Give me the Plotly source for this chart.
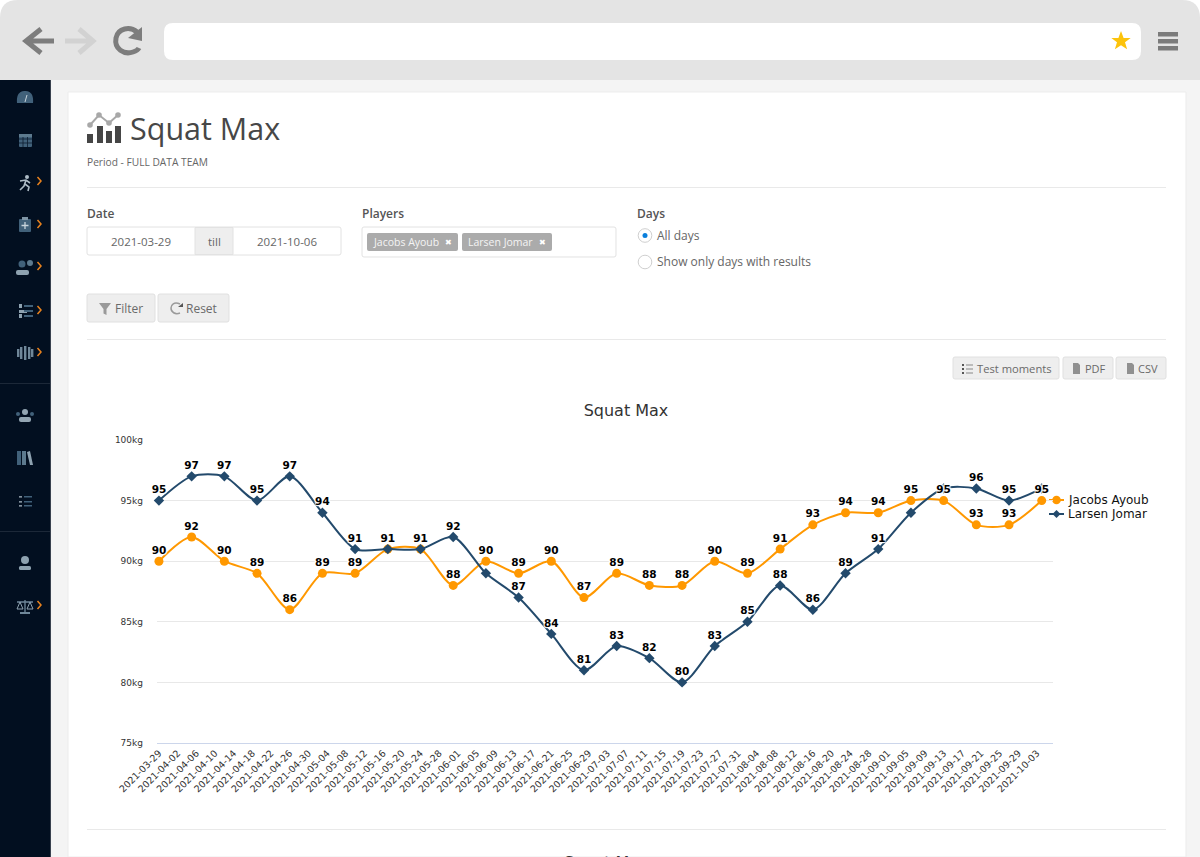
import plotly.graph_objects as go

W, H = 1200, 857

test_dates = ['2021-03-29', '2021-04-05', '2021-04-12', '2021-04-19', '2021-04-26', '2021-05-03', '2021-05-10',
              '2021-05-17', '2021-05-24', '2021-05-31', '2021-06-07', '2021-06-14', '2021-06-21', '2021-06-28',
              '2021-07-05', '2021-07-12', '2021-07-19', '2021-07-26', '2021-08-02', '2021-08-09', '2021-08-16',
              '2021-08-23', '2021-08-30', '2021-09-06', '2021-09-13', '2021-09-20', '2021-09-27', '2021-10-04']
jacobs = [90, 92, 90, 89, 86, 89, 89, 91, 91, 88, 90, 89, 90, 87, 89, 88, 88, 90, 89, 91, 93, 94, 94, 95, 95, 93, 93, 95]
larsen = [95, 97, 97, 95, 97, 94, 91, 91, 91, 92, 89, 87, 84, 81, 83, 82, 80, 83, 85, 88, 86, 89, 91, 94, 96, 96, 95, 96]
# the reference hides the labels that collide with the other series
larsen_labels = ['95', '97', '97', '95', '97', '94', '91', '91', '91', '92', '', '87', '84', '81', '83', '82', '80',
                 '83', '85', '88', '86', '89', '91', '', '', '96', '95', '']
tick_dates = ['2021-03-29', '2021-04-02', '2021-04-06', '2021-04-10', '2021-04-14', '2021-04-18', '2021-04-22',
              '2021-04-26', '2021-04-30', '2021-05-04', '2021-05-08', '2021-05-12', '2021-05-16', '2021-05-20',
              '2021-05-24', '2021-05-28', '2021-06-01', '2021-06-05', '2021-06-09', '2021-06-13', '2021-06-17',
              '2021-06-21', '2021-06-25', '2021-06-29', '2021-07-03', '2021-07-07', '2021-07-11', '2021-07-15',
              '2021-07-19', '2021-07-23', '2021-07-27', '2021-07-31', '2021-08-04', '2021-08-08', '2021-08-12',
              '2021-08-16', '2021-08-20', '2021-08-24', '2021-08-28', '2021-09-01', '2021-09-05', '2021-09-09',
              '2021-09-13', '2021-09-17', '2021-09-21', '2021-09-25', '2021-09-29', '2021-10-03']

ORANGE = '#ff9800'
NAVY = '#234a6c'
PAGE_FONT = 'Open Sans'
CHART_FONT = 'DejaVu Sans'
ICON = '#41617a'
BTN_TXT = '#6a6a6a'

shapes = []
notes = []


def svg(d):
    # path in page pixels -> paper coordinates
    out, is_x = [], True
    for tok in d.split():
        if tok.isalpha():
            out.append(tok)
        elif is_x:
            out.append(f'{float(tok) / W:.5f}')
            is_x = False
        else:
            out.append(f'{1 - float(tok) / H:.5f}')
            is_x = True
    return ' '.join(out)


def path(d, fill='rgba(0,0,0,0)', line=None, width=0):
    shapes.append(dict(type='path', path=svg(d), xref='paper', yref='paper', layer='below', fillcolor=fill,
                       line=dict(color=line or 'rgba(0,0,0,0)', width=width)))


def rect(x0, y0, x1, y1, fill, r=0, line=None, width=0):
    d = (f'M {x0 + r} {y0} L {x1 - r} {y0} Q {x1} {y0} {x1} {y0 + r} L {x1} {y1 - r} Q {x1} {y1} {x1 - r} {y1} '
         f'L {x0 + r} {y1} Q {x0} {y1} {x0} {y1 - r} L {x0} {y0 + r} Q {x0} {y0} {x0 + r} {y0} Z')
    path(d, fill, line, width)


def circle(cx, cy, r, fill, line=None, width=0, layer='below'):
    shapes.append(dict(type='circle', xref='paper', yref='paper', layer=layer, fillcolor=fill,
                       x0=(cx - r) / W, x1=(cx + r) / W, y0=1 - (cy + r) / H, y1=1 - (cy - r) / H,
                       line=dict(color=line or 'rgba(0,0,0,0)', width=width)))


def text(x, y, s, size=12, color='#666666', anchor='left', family=PAGE_FONT, weight=400, yanchor='middle'):
    notes.append(dict(x=x / W, y=1 - y / H, xref='paper', yref='paper', text=s, showarrow=False, xanchor=anchor,
                      yanchor=yanchor, borderpad=0, font=dict(size=size, color=color, family=family, weight=weight)))


# browser frame
rect(0, 0, 1200, 120, '#e4e4e4', r=18)
rect(0, 80, 1200, 857, '#f4f4f4')
rect(0, 80, 51, 857, '#020f20')
rect(50, 80, 51, 857, '#3a4350')
rect(68, 92, 1186, 857, '#ffffff', line='#ececec', width=1)
rect(164, 23, 1141, 60, '#ffffff', r=9)
path('M 41 29 L 26 41 L 41 53 M 26 41 L 54 41', line='#7d7d7d', width=5)
path('M 79 29 L 93 41 L 79 53 M 93 41 L 65 41', line='#d2d2d2', width=5)
path('M 137 32 C 130 26 118 28 116 38 C 114 49 124 55 133 52 C 136 51 138 50 139 48', line='#7d7d7d', width=5)
path('M 142 27 L 142 41 L 128 38 Z', fill='#7d7d7d')
path('M 1121 31 L 1123.6 37.9 L 1130.7 37.9 L 1125 42.3 L 1127.1 49.3 L 1121 45.2 L 1114.9 49.3 L 1117 42.3 '
     'L 1111.3 37.9 L 1118.4 37.9 Z', fill='#fcc30c')
for y0 in (32, 39, 46):
    rect(1158, y0, 1178, y0 + 4.5, '#7b7b7b')

# sidebar
for y0 in (383, 531):
    rect(0, y0, 50, y0 + 1, '#1c2838')
for y0 in (181, 224, 266, 310, 352, 605):
    path(f'M 37.5 {y0 - 4} L 41 {y0} L 37.5 {y0 + 4}', line='#e8821e', width=1.5)
path('M 17 103 C 16 92 22 91 25 91 C 28 91 34 92 33 103 Z', fill=ICON)
path('M 25 102 L 27 95', line='#c8d4dc', width=1)
rect(19, 135, 32, 147, ICON, r=1)
rect(19, 134, 32, 137, '#5d7a8e')
for y0 in (139, 143):
    path(f'M 19 {y0} L 32 {y0}', line='#0c1c2e', width=0.8)
for x0 in (23, 27.5):
    path(f'M {x0} 137 L {x0} 147', line='#0c1c2e', width=0.8)
circle(27, 177, 2, '#aebcc6')
path('M 26 180 L 24 186 L 20 190 M 25 184 L 29 187 L 28 191 M 20 181 L 26 180 L 30 183', line='#aebcc6', width=1.6)
rect(19, 219, 31, 232, ICON, r=1)
rect(22, 217, 28, 220, '#7f95a5')
path('M 25 222 L 25 229 M 21.5 225.5 L 28.5 225.5', line='#c8d4dc', width=1.3)
circle(22, 264, 3.5, ICON)
circle(30, 263, 3, '#5d7a8e')
rect(16, 270, 29, 275, '#8ea2b0', r=2)
rect(19, 304, 22, 308, '#8ea2b0')
rect(24, 305, 33, 307, ICON)
rect(19, 310, 27, 313, '#8ea2b0')
rect(24, 310, 33, 312, ICON)
rect(19, 314, 22, 318, '#8ea2b0')
rect(24, 315, 33, 317, ICON)
for x0, y0, y1 in ((17, 349, 357), (20, 347, 359), (24, 346, 360), (28, 347, 359), (31, 349, 357)):
    rect(x0, y0, x0 + 2.4, y1, '#6f8799')
circle(25, 412, 3, '#93a5b2')
circle(18, 414, 2, ICON)
circle(32, 414, 2, ICON)
rect(19, 417, 31, 422, '#93a5b2', r=2)
rect(17, 451, 21, 465, ICON)
rect(22, 451, 26, 465, '#5d7a8e')
path('M 27 452 L 30 451 L 33 465 L 30 465 Z', fill='#8ea2b0')
for y0 in (496, 501, 505):
    rect(19, y0 + 0.2, 22, y0 + 1.6, '#aebcc6')
    rect(24, y0, 32, y0 + 1.6, ICON)
circle(25, 560, 4, '#8ea2b0')
rect(19, 566, 31, 570, '#8ea2b0', r=1.5)
path('M 25 600 L 25 612 M 17 602 L 33 602', line='#6f8799', width=1.3)
path('M 20 602 L 17 609 L 23 609 Z M 30 602 L 27 609 L 33 609 Z', line='#8ea2b0', width=1)
rect(20, 612, 30, 614, '#6f8799')

# page header
for x0, y0 in ((87, 134), (97, 126), (106, 131), (115, 126)):
    rect(x0, y0, x0 + 6, 143, '#454545')
path('M 90 125 L 99 115 L 109 123 L 118 115', line='#a8a8a8', width=2)
for cx, cy in ((90, 125), (99, 115), (109, 123), (118, 115)):
    circle(cx, cy, 2.8, '#a8a8a8')
text(129, 128, 'Squat Max', size=30.5, color='#474747')
text(86, 162, 'Period - FULL DATA TEAM', size=10.2, color='#666666')
for y0 in (187, 339, 829):
    rect(87, y0, 1166, y0 + 1, '#e9e9e9')

# filter form
text(86, 213, 'Date', size=12, color='#555555', weight=600)
rect(87, 227, 341, 255, '#ffffff', r=2, line='#e2e2e2', width=1)
rect(195, 227.5, 233, 254.5, '#eeeeee', line='#e2e2e2', width=1)
text(141, 241, '2021-03-29', size=11.5, anchor='center')
text(214, 241, 'till', size=11.5, anchor='center')
text(287, 241, '2021-10-06', size=11.5, anchor='center')
text(361, 213, 'Players', size=12, color='#555555', weight=600)
rect(362, 227, 616, 257, '#ffffff', r=2, line='#e2e2e2', width=1)
for x0, x1, name in ((367, 458, 'Jacobs Ayoub'), (462, 552, 'Larsen Jomar')):
    rect(x0, 233, x1, 251, '#ababab', r=2)
    text(x0 + 5, 242.5, name, size=10.5, color='#f4f4f4')
    text(x1 - 9.5, 242, '✖', size=8, color='#ffffff', anchor='center', family='DejaVu Sans')
text(636, 213, 'Days', size=12, color='#555555', weight=600)
circle(645, 235.5, 6.8, '#ffffff', line='#cfcfcf', width=1)
circle(645, 235.5, 2.5, '#0a7fdc')
text(656, 235, 'All days', size=12)
circle(645, 262, 6.8, '#ffffff', line='#cfcfcf', width=1)
text(656, 262, 'Show only days with results', size=12)

# buttons
for x0, y0, x1, y1 in ((87, 294, 155, 322), (158, 294, 229, 322), (953, 357, 1059, 379), (1063, 357, 1113, 379),
                       (1116, 357, 1166, 379)):
    rect(x0, y0, x1, y1, '#eeeeee', r=2, line='#e0e0e0', width=1)
path('M 99 303 L 111 303 L 106.5 309 L 106.5 315 L 103.5 313.5 L 103.5 309 Z', fill='#9a9a9a')
text(114, 308, 'Filter', size=12, color=BTN_TXT)
path('M 180 304 C 174 301 171 305 171 308 C 171 312 175 315 180 313', line='#9a9a9a', width=1.5)
path('M 183 303 L 183 307 L 178 307 Z', fill='#555555')
text(185, 308, 'Reset', size=12, color=BTN_TXT)
for y0 in (364, 368, 372):
    rect(962, y0, 964, y0 + 2, '#555555')
    rect(966, y0 + 0.5, 973, y0 + 1.5, '#888888')
text(975.5, 368, 'Test moments', size=11.2, color=BTN_TXT)
for x0 in (1073, 1127):
    path(f'M {x0} 363 L {x0 + 5} 363 L {x0 + 7} 365 L {x0 + 7} 374 L {x0} 374 Z', fill='#909090')
text(1083.5, 368, 'PDF', size=11, color=BTN_TXT)
text(1136.5, 368, 'CSV', size=11, color=BTN_TXT)

# hand-drawn legend, the row spacing of the original is tighter than plotly's own
path('M 1049 500 L 1064 500', line=ORANGE, width=2)
circle(1056.5, 500, 4.3, ORANGE)
path('M 1049 514 L 1064 514', line=NAVY, width=2)
path('M 1056.5 510 L 1060.5 514 L 1056.5 518 L 1052.5 514 Z', fill=NAVY)
text(1067, 500, 'Jacobs Ayoub', size=12, color='#111111', family=CHART_FONT)
text(1067, 514, 'Larsen Jomar', size=12, color='#111111', family=CHART_FONT)

# second chart title, cut off by the bottom of the page
text(606, 852, 'Squat Max', size=16, color='#333333', anchor='center', family=CHART_FONT, yanchor='top')

fig = go.Figure()
fig.add_trace(go.Scatter(x=test_dates, y=jacobs, name='Jacobs Ayoub', mode='lines+markers', cliponaxis=False,
                         line=dict(color=ORANGE, width=2, shape='spline', smoothing=0.8),
                         marker=dict(symbol='circle', size=9, color=ORANGE)))
fig.add_trace(go.Scatter(x=test_dates, y=larsen, name='Larsen Jomar', mode='lines+markers', cliponaxis=False,
                         line=dict(color=NAVY, width=2, shape='spline', smoothing=0.8),
                         marker=dict(symbol='diamond', size=8, color=NAVY)))

# labels in their own traces so they sit above both lines, white halo like the original
halo = '1px 1px 1px #fff, -1px -1px 1px #fff, 1px -1px 1px #fff, -1px 1px 1px #fff'
for vals, labels in ((jacobs, [str(v) for v in jacobs]), (larsen, larsen_labels)):
    fig.add_trace(go.Scatter(x=test_dates, y=vals, mode='markers+text', text=labels, textposition='top center',
                             cliponaxis=False, marker=dict(size=6, opacity=0), hoverinfo='skip', showlegend=False,
                             textfont=dict(family=CHART_FONT, size=10.5, color='#000000', weight='bold', shadow=halo)))

fig.update_layout(
    template='none',
    width=W,
    height=H,
    margin=dict(l=0, r=0, t=0, b=0),
    paper_bgcolor='white',
    plot_bgcolor='rgba(0,0,0,0)',
    showlegend=False,
    title=dict(text='Squat Max', x=626 / W, y=1 - 410 / H, xanchor='center', yanchor='middle',
               font=dict(family=CHART_FONT, size=16, color='#333333')),
    xaxis=dict(
        domain=[157 / W, 1053 / W],
        automargin=False,
        type='date',
        range=['2021-03-28 14:00', '2021-10-06 10:00'],
        tickmode='array',
        tickvals=tick_dates,
        ticktext=tick_dates,
        tickangle=-45,
        tickfont=dict(family=CHART_FONT, size=9.5, color='#333333'),
        showgrid=False,
        zeroline=False,
        showline=True,
        linecolor='#ccd6eb',
        linewidth=1,
        ticks='',
    ),
    yaxis=dict(
        domain=[1 - 743 / H, 1 - 440 / H],
        automargin=False,
        range=[75, 100],
        dtick=5,
        ticksuffix='kg',
        tickfont=dict(family=CHART_FONT, size=9, color='#333333'),
        gridcolor='#e8e8e8',
        gridwidth=1,
        zeroline=False,
        showline=False,
        ticks='',
        ticklabelstandoff=13,
    ),
    shapes=shapes,
    annotations=notes,
)

fig.write_html("out.html", config=dict(displayModeBar=False),
               post_script="document.body.style.margin='0';document.body.style.overflow='hidden';")
